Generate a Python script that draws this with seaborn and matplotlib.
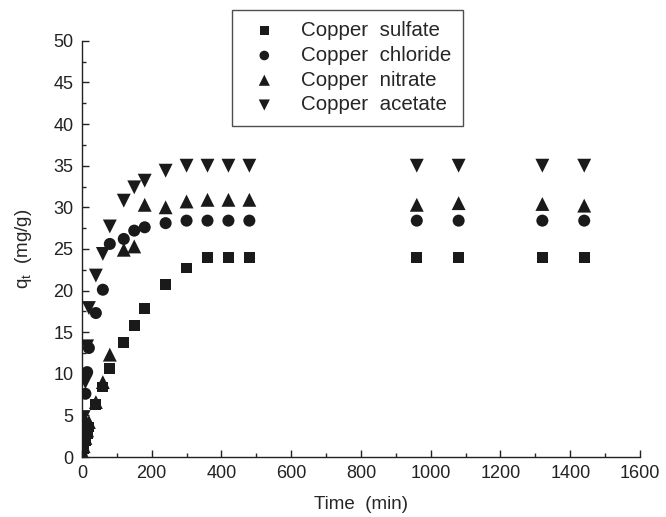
import numpy as np
import pandas as pd
import seaborn as sns
import matplotlib.pyplot as plt
from matplotlib.ticker import MultipleLocator

time = [0, 5, 10, 15, 20, 40, 60, 80, 120, 150, 180, 240, 300, 360, 420, 480, 960, 1080, 1320, 1440]
sulfate = [0, 1.0, 2.0, 2.8, 3.6, 6.3, 8.4, 10.6, 13.8, 15.8, 17.8, 20.7, 22.7, 24.0, 24.0, 24.0, 24.0, 24.0, 24.0, 24.0]
chloride = [0, 4.2, 7.6, 10.2, 13.1, 17.3, 20.1, 25.6, 26.2, 27.2, 27.6, 28.1, 28.4, 28.4, 28.4, 28.4, 28.4, 28.4, 28.4, 28.4]
nitrate = [0, 1.3, 2.3, 3.2, 4.2, 6.6, 9.0, 12.3, 24.9, 25.3, 30.3, 30.0, 30.7, 30.9, 30.9, 30.9, 30.3, 30.5, 30.4, 30.2]
acetate = [0, 4.8, 9.0, 13.3, 17.9, 21.8, 24.4, 27.7, 30.8, 32.4, 33.2, 34.4, 35.0, 35.0, 35.0, 35.0, 35.0, 35.0, 35.0, 35.0]

labels = ['Copper  sulfate', 'Copper  chloride', 'Copper  nitrate', 'Copper  acetate']
df = pd.DataFrame({'t': time * 4,
                   'q': sulfate + chloride + nitrate + acetate,
                   'salt': np.repeat(labels, len(time))})

sns.set_style("ticks")
plt.rcParams['font.family'] = ['Liberation Sans', 'DejaVu Sans']
plt.rcParams['xtick.direction'] = 'in'
plt.rcParams['ytick.direction'] = 'in'

fig = plt.figure(figsize=(6.66, 5.17), dpi=100)
ax = fig.add_axes([0.123, 0.116, 0.838, 0.805])

mk = {labels[0]: 's', labels[1]: 'o', labels[2]: '^', labels[3]: 'v'}
sizes = {labels[0]: 60, labels[1]: 75, labels[2]: 100, labels[3]: 100}
for lab in labels:
    sub = df[df.salt == lab]
    sns.scatterplot(data=sub, x='t', y='q', marker=mk[lab], s=sizes[lab],
                    color='#1a1a1a', edgecolor='none', label=lab, ax=ax, zorder=3)

ax.set_xlim(0, 1600)
ax.set_ylim(0, 50)
ax.xaxis.set_major_locator(MultipleLocator(200))
ax.xaxis.set_minor_locator(MultipleLocator(100))
ax.yaxis.set_major_locator(MultipleLocator(5))
ax.yaxis.set_minor_locator(MultipleLocator(2.5))
ax.tick_params(which='major', length=5, width=1, labelsize=13, colors='#222222', pad=6)
ax.tick_params(which='minor', length=3, width=1)
sns.despine(ax=ax)
for s in ['left', 'bottom']:
    ax.spines[s].set_linewidth(1)
    ax.spines[s].set_color('#222222')

ax.set_xlabel('Time  (min)', fontsize=13.5, labelpad=10)
ax.set_ylabel('q$_\\mathregular{t}$  (mg/g)', fontsize=13.5, labelpad=14)

leg = ax.legend(loc='upper center', bbox_to_anchor=(0.522, 0.981), bbox_transform=fig.transFigure,
                fontsize=14.8, frameon=True, fancybox=False, edgecolor='#222222',
                labelspacing=0.28, handletextpad=0.8, borderpad=0.55, borderaxespad=0,
                markerscale=0.8)
leg.get_frame().set_linewidth(1)

fig.savefig('out.png', dpi=100)
